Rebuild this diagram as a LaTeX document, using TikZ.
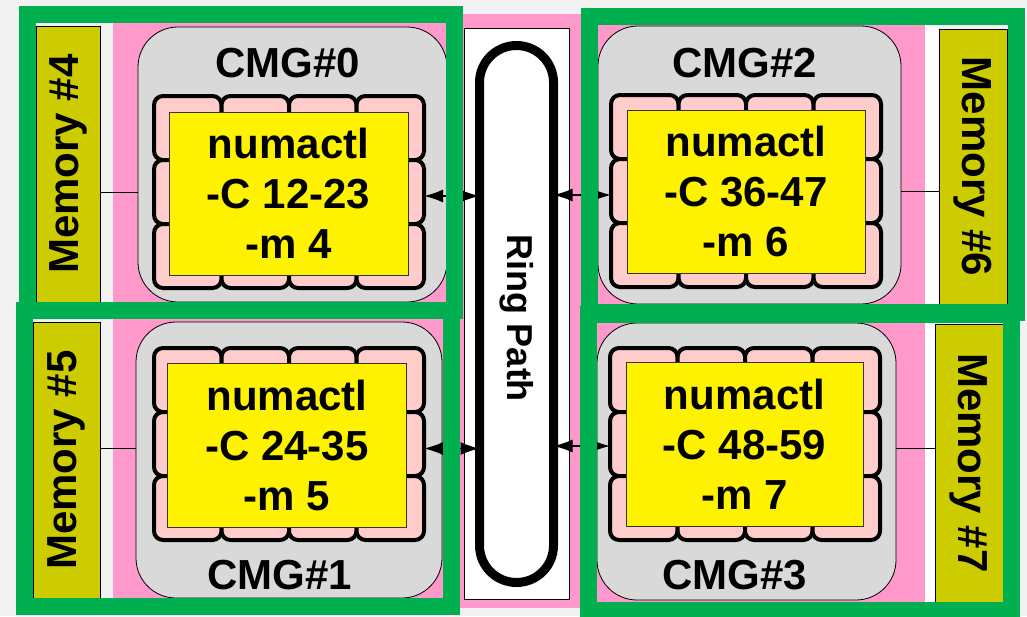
\documentclass[tikz,border=0pt]{standalone}
\usepackage{fontspec}
\setmainfont{Liberation Sans}
\usetikzlibrary{arrows.meta, positioning}

\definecolor{bggray}{HTML}{F2F2F2}
\definecolor{sockpink}{HTML}{FF99CC}
\definecolor{corepink}{HTML}{FFCCCC}
\definecolor{cmggray}{HTML}{D9D9D9}
\definecolor{memolive}{HTML}{CCCC00}
\definecolor{framegreen}{HTML}{00B050}

\newcommand{\bigtxt}{\fontsize{42}{50}\selectfont\bfseries}

\begin{document}
\begin{tikzpicture}[x=1pt, y=-1pt,
    every node/.style={inner sep=0pt, outer sep=0pt},
    cmg/.style={rectangle, draw, line width=0.8pt, fill=cmggray, rounded corners=40pt},
    core/.style={rectangle, draw, line width=4pt, fill=corepink, rounded corners=9pt, minimum width=67.5pt, minimum height=64pt},
    numa/.style={rectangle, draw=black!80, line width=0.8pt, fill=yellow, align=center, font=\bigtxt},
    mem/.style={rectangle, draw, line width=0.8pt, fill=memolive, font=\fontsize{42}{50}\selectfont\bfseries},
    bus/.style={line width=1.5pt, {Latex[length=19pt, width=13pt]}-{Latex[length=19pt, width=13pt]}},
    frame/.style={draw=framegreen, line width=17pt}]
    \useasboundingbox[fill=bggray] (0,0) rectangle (1027,616);

    % socket background
    \fill[sockpink] (113,14) rectangle (925,608);
    \fill[white] (925,14) rectangle (938,608);

    % memories
    \node[mem, rotate=90, minimum width=276pt, minimum height=64pt] (m4) at (68,164) {Memory \#4};
    \node[mem, rotate=90, minimum width=276pt, minimum height=67pt] (m5) at (66.5,460) {Memory \#5};
    \node[mem, rotate=-90, minimum width=275pt, minimum height=68pt] (m6) at (973,166.5) {Memory \#6};
    \node[mem, rotate=-90, minimum width=278pt, minimum height=68pt] (m7) at (969,463) {Memory \#7};

    % ring path
    \node[rectangle, draw, line width=0.8pt, fill=white, minimum width=105pt, minimum height=571pt] (rbox) at (516.5,313.5) {};
    \node[rectangle, draw, line width=9pt, rounded corners=37pt, minimum width=74pt, minimum height=537pt] (ring) at (516.5,314) {};
    \node[rotate=-90, font=\fontsize{36}{40}\selectfont\bfseries] (rp) at (517,318) {Ring Path};

    % CMGs
    \node[cmg, minimum width=309pt, minimum height=275pt] (cmg0) at (292.5,164.5) {};
    \node[cmg, minimum width=306pt, minimum height=276pt] (cmg1) at (289,460) {};
    \node[cmg, minimum width=303pt, minimum height=278pt] (cmg2) at (749.5,165) {};
    \node[cmg, minimum width=299pt, minimum height=277pt] (cmg3) at (746.5,461.5) {};

    \node[font=\bigtxt] (l0) at (288,63) {CMG\#0};
    \node[font=\bigtxt] (l1) at (280,575) {CMG\#1};
    \node[font=\bigtxt] (l2) at (745,63) {CMG\#2};
    \node[font=\bigtxt] (l3) at (735,575) {CMG\#3};

    % cores
    \foreach \c/\ox/\oy in {0/154/96, 1/154/348, 2/611/95, 3/610/348}
        \foreach \r in {1,2,3}
            \foreach \k in {1,...,4}
                \node[core] (c\c-\r-\k) at ({\ox+(\k-0.5)*67.5}, {\oy+(\r-0.5)*64}) {};

    \node[numa, minimum width=239pt, minimum height=163pt] (y0) at (288.5,193.5) {numactl\\-C 12-23\\-m 4};
    \node[numa, minimum width=239pt, minimum height=164pt] (y1) at (287,445) {numactl\\-C 24-35\\-m 5};
    \node[numa, minimum width=238pt, minimum height=163pt] (y2) at (746,191.5) {numactl\\-C 36-47\\-m 6};
    \node[numa, minimum width=237pt, minimum height=164pt] (y3) at (744.5,444) {numactl\\-C 48-59\\-m 7};

    % links
    \draw[line width=0.8pt] (m4.south |- c0-2-1) -- (cmg0.west |- c0-2-1);
    \draw[line width=0.8pt] ([yshift=-4.5pt]m5.south |- c1-2-1) -- ([yshift=-4.5pt]cmg1.west |- c1-2-1);
    \draw[line width=0.8pt] (m6.south |- c2-2-4) -- (cmg2.east |- c2-2-4);
    \draw[line width=0.8pt] ([yshift=-4.5pt]m7.south |- c3-2-4) -- ([yshift=-4.5pt]cmg3.east |- c3-2-4);

    \draw[bus] ([yshift=-4pt]c0-2-4.east) -- ([yshift=-4pt]ring.west |- c0-2-4);
    \draw[bus] ([yshift=-4.5pt]c1-2-4.east) -- ([yshift=-4.5pt]ring.west |- c1-2-4);
    \draw[bus] ([yshift=-4pt]ring.east |- c2-2-1) -- ([yshift=-4pt]c2-2-1.west);
    \draw[bus] ([yshift=-2pt]ring.east |- c3-2-1) -- ([yshift=-2pt]c3-2-1.west);

    % green frames
    \draw[frame] (27,14) rectangle (454.5,310.5);
    \draw[frame] (589.5,16) rectangle (1016,312.5);
    \draw[frame] (24.5,310.5) rectangle (451.5,606.5);
    \draw[frame] (588.5,314) rectangle (1011.5,610.5);
\end{tikzpicture}
\end{document}
